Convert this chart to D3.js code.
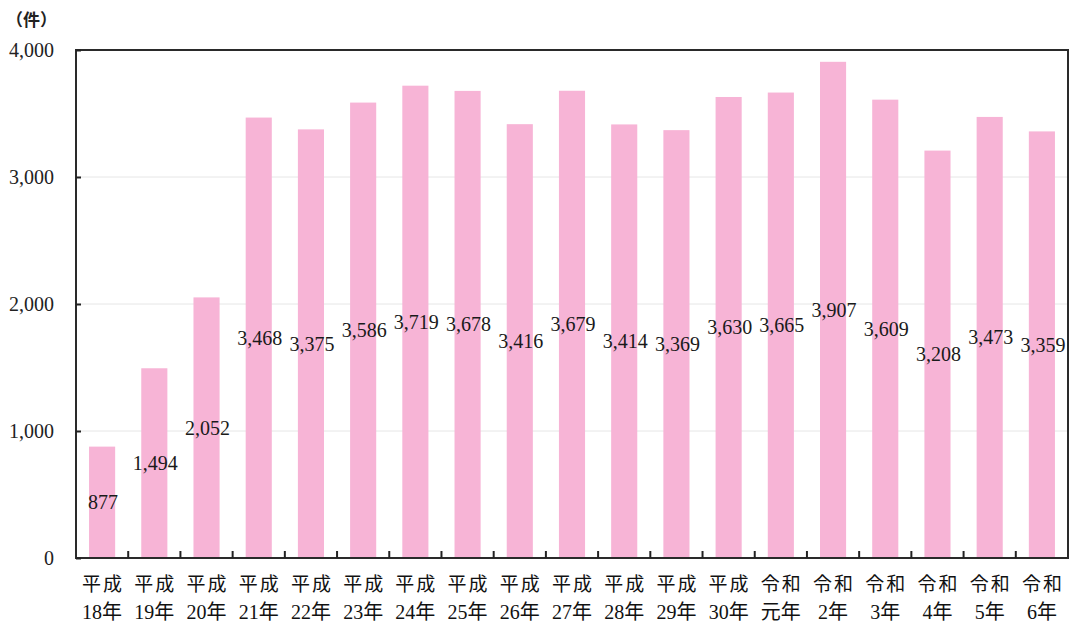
<!DOCTYPE html>
<html><head><meta charset="utf-8">
<script src="https://cdn.jsdelivr.net/npm/d3@7"></script>
<style>body{margin:0;background:#fff;}svg{display:block;}</style>
</head><body>
<svg id="c" width="1070" height="626"></svg>
<script>
const eras = ["平成","平成","平成","平成","平成","平成","平成","平成","平成","平成","平成","平成","平成","令和","令和","令和","令和","令和","令和"];
const years = ["18年","19年","20年","21年","22年","23年","24年","25年","26年","27年","28年","29年","30年","元年","2年","3年","4年","5年","6年"];
const values = [877,1494,2052,3468,3375,3586,3719,3678,3416,3679,3414,3369,3630,3665,3907,3609,3208,3473,3359];
const yTicks = [0,1000,2000,3000,4000];
const unitLabel = "（件）";

const svg = d3.select("#c");
const L = 76, R = 1068, T = 50, B = 558;
const serif = "'Liberation Serif','DejaVu Serif',serif";
const jp = "'Liberation Serif','Noto Sans CJK JP',serif";

const x = d3.scaleBand().domain(d3.range(values.length)).range([L, R]).paddingInner(0.5).paddingOuter(0.25);
const xb = d3.scaleBand().domain(d3.range(values.length)).range([L, R]);
const y = d3.scaleLinear().domain([0, 4000]).range([B, T]);

// gridlines
svg.append("g").selectAll("line").data(yTicks.filter(d => d > 0 && d < 4000)).join("line")
  .attr("x1", L).attr("x2", R).attr("y1", d => y(d)).attr("y2", d => y(d))
  .attr("stroke", "#e6e6e6").attr("stroke-width", 1);

// bars
svg.append("g").selectAll("rect").data(values).join("rect")
  .attr("x", (d, i) => x(i)).attr("width", x.bandwidth())
  .attr("y", d => y(d)).attr("height", d => B - y(d))
  .attr("fill", "#f7b4d6");

// value labels
svg.append("g").selectAll("text").data(values).join("text")
  .attr("x", (d, i) => x(i) + x.bandwidth() / 2 + 1)
  .attr("y", d => y(d / 2))
  .attr("text-anchor", "middle").attr("dominant-baseline", "central")
  .attr("font-family", serif).attr("font-size", 20).attr("fill", "#1a1a1a")
  .text(d => d3.format(",")(d));

// frame
svg.append("rect").attr("x", L).attr("y", T).attr("width", R - L).attr("height", B - T)
  .attr("fill", "none").attr("stroke", "#2a2a2a").attr("stroke-width", 2);

// left axis with inward ticks
const yAxis = d3.axisLeft(y).tickValues(yTicks).tickSize(-5).tickPadding(22).tickFormat(d3.format(","));
const gy = svg.append("g").attr("transform", `translate(${L},0)`).call(yAxis);
gy.select(".domain").remove();
gy.selectAll(".tick line").attr("stroke", "#222").attr("stroke-width", 2);
gy.selectAll(".tick text").attr("font-family", serif).attr("font-size", 20).attr("fill", "#222");

// bottom ticks at category boundaries (inward)
const bounds = d3.range(1, values.length).map(i => xb(i));
svg.append("g").selectAll("line").data(bounds).join("line")
  .attr("x1", d => d).attr("x2", d => d).attr("y1", B).attr("y2", B - 7)
  .attr("stroke", "#222").attr("stroke-width", 2);

// category labels
const gx = svg.append("g");
gx.selectAll("text.era").data(eras).join("text").attr("class", "era")
  .attr("x", (d, i) => xb(i) + xb.bandwidth() / 2 + 1).attr("y", 584)
  .attr("text-anchor", "middle").attr("dominant-baseline", "central")
  .attr("font-family", jp).attr("font-size", 19).attr("letter-spacing", 2).attr("fill", "#111")
  .text(d => d);
gx.selectAll("text.yr").data(years).join("text").attr("class", "yr")
  .attr("x", (d, i) => xb(i) + xb.bandwidth() / 2).attr("y", 612)
  .attr("text-anchor", "middle").attr("dominant-baseline", "central")
  .attr("font-family", jp).attr("font-size", 20).attr("fill", "#111")
  .text(d => d);

svg.append("text").attr("x", 6).attr("y", 18).attr("dominant-baseline", "central")
  .attr("font-family", "'Noto Sans CJK JP',sans-serif").attr("font-size", 17).attr("font-weight", "bold").attr("fill", "#222")
  .text(unitLabel);
</script>
</body></html>
